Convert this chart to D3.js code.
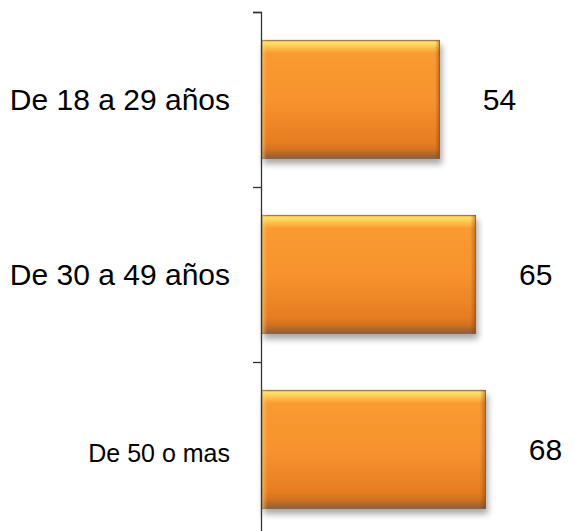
<!DOCTYPE html>
<html>
<head>
<meta charset="utf-8">
<script src="https://cdn.jsdelivr.net/npm/d3@7"></script>
<style>
html,body{margin:0;padding:0;background:#fff;}
svg{display:block;}
text{font-family:"Liberation Sans",Arial,sans-serif;fill:#000;}
</style>
</head>
<body>
<svg id="chart" width="574" height="531"></svg>
<script>
const categories = ["De 18 a 29 años", "De 30 a 49 años", "De 50 o mas"];
const values = [54, 65, 68];
const labelSizes = [30, 30, 25];

const svg = d3.select("#chart");
const axisX = 261;

const y = d3.scaleBand().domain(categories).range([12, 537])
  .paddingInner(0.3234).paddingOuter(0.1617);
const x = d3.scaleLinear().domain([0, 80]).range([axisX + 1, 525]);
const yb = d3.scaleLinear().domain([0, categories.length]).range([12, 537]);

const defs = svg.append("defs");
const g1 = defs.append("linearGradient").attr("id", "barGrad")
  .attr("x1", 0).attr("y1", 0).attr("x2", 0).attr("y2", 1);
[[0, "#F2A03A"], [0.02, "#FFE36A"], [0.06, "#FCC24A"], [0.11, "#FA9A30"],
 [0.5, "#F7932E"], [0.86, "#E67D22"], [0.92, "#D5721F"], [0.97, "#A8652E"], [1, "#8A6040"]]
  .forEach(([o, c]) => g1.append("stop").attr("offset", o).attr("stop-color", c));
const g2 = defs.append("linearGradient").attr("id", "edgeGrad")
  .attr("x1", 0).attr("y1", 0).attr("x2", 1).attr("y2", 0);
[[0, "rgba(255,210,120,0.55)"], [0.025, "rgba(255,210,120,0)"],
 [0.975, "rgba(120,60,10,0)"], [1, "rgba(120,60,10,0.45)"]]
  .forEach(([o, c]) => g2.append("stop").attr("offset", o).attr("stop-color", c));
const f = defs.append("filter").attr("id", "shadow")
  .attr("x", "-5%").attr("y", "-5%").attr("width", "115%").attr("height", "125%");
f.append("feDropShadow").attr("dx", 2).attr("dy", 5).attr("stdDeviation", 3)
  .attr("flood-color", "#000").attr("flood-opacity", 0.35);

const bars = svg.append("g").selectAll("g").data(categories).join("g");
bars.append("rect")
  .attr("x", x(0)).attr("y", d => y(d))
  .attr("width", (d, i) => x(values[i]) - x(0)).attr("height", y.bandwidth())
  .attr("fill", "url(#barGrad)").attr("stroke", "#7A6048").attr("stroke-width", 0.8)
  .attr("filter", "url(#shadow)");
bars.append("rect")
  .attr("x", x(0)).attr("y", d => y(d))
  .attr("width", (d, i) => x(values[i]) - x(0)).attr("height", y.bandwidth())
  .attr("fill", "url(#edgeGrad)");

// axis
svg.append("g").attr("transform", `translate(${axisX},0)`)
  .call(d3.axisLeft(yb).tickValues(d3.range(categories.length + 1)).tickSize(8).tickFormat(""))
  .call(g => g.selectAll("path,line").attr("stroke", "#333").attr("stroke-width", 1.3));

// category labels
svg.append("g").selectAll("text").data(categories).join("text")
  .attr("x", 230)
  .attr("y", (d, i) => y(d) + y.bandwidth() / 2 + labelSizes[i] * 0.36 + (i === 2 ? 3 : 0))
  .attr("text-anchor", "end")
  .attr("font-size", (d, i) => labelSizes[i] + "px")
  .text(d => d);

// value labels
svg.append("g").selectAll("text").data(categories).join("text")
  .attr("x", (d, i) => x(values[i]) + 60)
  .attr("y", d => y(d) + y.bandwidth() / 2 + 30 * 0.36)
  .attr("text-anchor", "middle")
  .attr("font-size", "30px")
  .text((d, i) => values[i]);
</script>
</body>
</html>
